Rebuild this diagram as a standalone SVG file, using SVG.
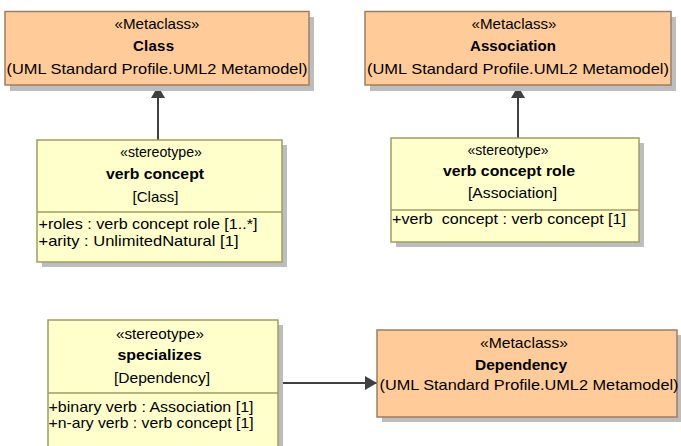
<svg xmlns="http://www.w3.org/2000/svg" width="681" height="446" viewBox="0 0 681 446">
<style>
text{font-family:"Liberation Sans",Arial,sans-serif;font-size:15px;fill:#000;text-anchor:middle}
.b{font-weight:bold}
.l{text-anchor:start}
.meta{fill:#FFCC99;stroke:#9E7E62;stroke-width:1.5}
.ster{fill:#FFFFCC;stroke:#9E9E62;stroke-width:1.5}
.sh{fill:#BDBDBD}
.div{stroke:#9E9E62;stroke-width:1.5}
.c{stroke:#404040;stroke-width:2;fill:none}
</style>
<defs>
<marker id="tri" viewBox="0 0 12 14" refX="12" refY="7" markerWidth="12" markerHeight="14" markerUnits="userSpaceOnUse" orient="auto">
<path d="M0,0 L12,7 L0,14 Z" fill="#404040"/>
</marker>
</defs>
<g id="connectors">
<line class="c" x1="158" y1="140" x2="158" y2="86" marker-end="url(#tri)"/>
<line class="c" x1="518" y1="138" x2="518" y2="86" marker-end="url(#tri)"/>
<line class="c" x1="283" y1="383" x2="377" y2="383" marker-end="url(#tri)"/>
</g>
<g id="class">
<rect class="sh" x="10" y="17" width="304" height="74"/>
<rect class="meta" x="5" y="11.5" width="304" height="73.5"/>
<text x="157" y="29" textLength="85" lengthAdjust="spacingAndGlyphs">«Metaclass»</text>
<text class="b" x="153.5" y="51" textLength="41">Class</text>
<text x="157" y="74" textLength="301" lengthAdjust="spacingAndGlyphs">(UML Standard Profile.UML2 Metamodel)</text>
</g>
<g id="association">
<rect class="sh" x="370" y="17" width="306" height="74"/>
<rect class="meta" x="365" y="11.5" width="306" height="73.5"/>
<text x="514" y="29" textLength="85" lengthAdjust="spacingAndGlyphs">«Metaclass»</text>
<text class="b" x="513" y="51" textLength="86">Association</text>
<text x="518" y="74" textLength="302" lengthAdjust="spacingAndGlyphs">(UML Standard Profile.UML2 Metamodel)</text>
</g>
<g id="verbconcept">
<rect class="sh" x="42" y="145" width="245" height="122"/>
<rect class="ster" x="37" y="140" width="245" height="122"/>
<line class="div" x1="37" y1="212" x2="282" y2="212"/>
<text x="161" y="157" textLength="82" lengthAdjust="spacingAndGlyphs">«stereotype»</text>
<text class="b" x="155" y="179" textLength="98" lengthAdjust="spacingAndGlyphs">verb concept</text>
<text x="155.5" y="202" textLength="46" lengthAdjust="spacingAndGlyphs">[Class]</text>
<text class="l" x="38.5" y="229" textLength="219" lengthAdjust="spacingAndGlyphs">+roles : verb concept role [1..*]</text>
<text class="l" x="38.5" y="246" textLength="200" lengthAdjust="spacingAndGlyphs">+arity : UnlimitedNatural [1]</text>
</g>
<g id="verbconceptrole">
<rect class="sh" x="396" y="143" width="248" height="104"/>
<rect class="ster" x="391" y="138" width="248" height="104"/>
<line class="div" x1="391" y1="210" x2="639" y2="210"/>
<text x="508" y="155" textLength="81" lengthAdjust="spacingAndGlyphs">«stereotype»</text>
<text class="b" x="509" y="176" textLength="132" lengthAdjust="spacingAndGlyphs">verb concept role</text>
<text x="512.5" y="198" textLength="89" lengthAdjust="spacingAndGlyphs">[Association]</text>
<text class="l" x="392" y="224" textLength="234" lengthAdjust="spacingAndGlyphs" xml:space="preserve">+verb  concept : verb concept [1]</text>
</g>
<g id="specializes">
<rect class="sh" x="53" y="325" width="230" height="130"/>
<rect class="ster" x="48" y="320" width="230" height="135"/>
<line class="div" x1="48" y1="393" x2="278" y2="393"/>
<text x="160" y="339" textLength="88" lengthAdjust="spacingAndGlyphs">«stereotype»</text>
<text class="b" x="159.5" y="360" textLength="84" lengthAdjust="spacingAndGlyphs">specializes</text>
<text x="162" y="383" textLength="96" lengthAdjust="spacingAndGlyphs">[Dependency]</text>
<text class="l" x="48.5" y="412" textLength="205" lengthAdjust="spacingAndGlyphs">+binary verb : Association [1]</text>
<text class="l" x="48.5" y="428" textLength="205" lengthAdjust="spacingAndGlyphs">+n-ary verb : verb concept [1]</text>
</g>
<g id="dependency">
<rect class="sh" x="382" y="335" width="300" height="87"/>
<rect class="meta" x="377" y="330" width="300" height="87"/>
<text x="524" y="348" textLength="88" lengthAdjust="spacingAndGlyphs">«Metaclass»</text>
<text class="b" x="521" y="370" textLength="92" lengthAdjust="spacingAndGlyphs">Dependency</text>
<text x="529" y="390" textLength="299" lengthAdjust="spacingAndGlyphs">(UML Standard Profile.UML2 Metamodel)</text>
</g>
</svg>
